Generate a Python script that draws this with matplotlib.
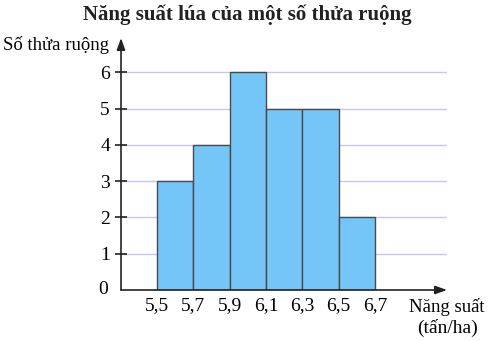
import matplotlib
matplotlib.use("Agg")
import matplotlib.pyplot as plt
import numpy as np

bin_edges = [5.5, 5.7, 5.9, 6.1, 6.3, 6.5, 6.7]
counts = [3, 4, 6, 5, 5, 2]
edge_labels = ["5,5", "5,7", "5,9", "6,1", "6,3", "6,5", "6,7"]
y_ticks = [0, 1, 2, 3, 4, 5, 6]

plt.rcParams['font.family'] = ['Liberation Serif', 'DejaVu Serif']

W, H = 489, 341
fig = plt.figure(figsize=(W / 100, H / 100), dpi=100)
left, right, bottom, top = 121, 447, 290, 38
ax = fig.add_axes([left / W, 1 - bottom / H, (right - left) / W, (bottom - top) / H])

x0 = 5.5 - (157 - 121) / 181.7
x1 = 5.5 + (447 - 157) / 181.7
ax.set_xlim(x0, x1)
ax.set_ylim(0, (290 - 38) / 36.3)

for y in y_ticks[1:]:
    ax.axhline(y, color='#c9c6ee', lw=1, zorder=0)

widths = np.diff(bin_edges)
ax.bar(bin_edges[:-1], counts, width=widths, align='edge',
       color='#74c6f8', edgecolor='#4a4a4a', lw=1, zorder=2)

for s in ['top', 'right', 'left', 'bottom']:
    ax.spines[s].set_visible(False)

# axes with arrows
ax.annotate('', xy=(1.0, 0), xytext=(0, 0), xycoords='axes fraction',
            arrowprops=dict(arrowstyle='-|>,head_length=0.7,head_width=0.25', color='#222222', lw=1.2,
                            shrinkA=0, shrinkB=0), zorder=5)
ax.annotate('', xy=(0, 1.0), xytext=(0, 0), xycoords='axes fraction',
            arrowprops=dict(arrowstyle='-|>,head_length=0.7,head_width=0.25', color='#222222', lw=1.2,
                            shrinkA=0, shrinkB=0), zorder=5)

fs = 14
ax.set_yticks(y_ticks[1:])
ax.set_yticklabels([str(v) for v in y_ticks[1:]], fontsize=fs)
ax.tick_params(axis='y', direction='inout', length=8, width=1.2, color='#222222', pad=4)
ax.set_xticks(bin_edges)
ax.set_xticklabels(edge_labels, fontsize=fs)
ax.tick_params(axis='x', length=0, pad=5)

ax.text(-0.055, 0, '0', transform=ax.transAxes, ha='center', va='center', fontsize=fs)

fig.text(247 / W, 1 - 15 / H, 'Năng suất lúa của một số thửa ruộng', ha='center', va='center',
         fontsize=15, fontweight='bold', color='#222222')
fig.text(3 / W, 1 - 45 / H, 'Số thửa ruộng', ha='left', va='center', fontsize=13.5)
fig.text(447 / W, 1 - 307 / H, 'Năng suất', ha='center', va='center', fontsize=13.5)
fig.text(448 / W, 1 - 328 / H, '(tấn/ha)', ha='center', va='center', fontsize=fs)

fig.savefig('out.png', dpi=100)
